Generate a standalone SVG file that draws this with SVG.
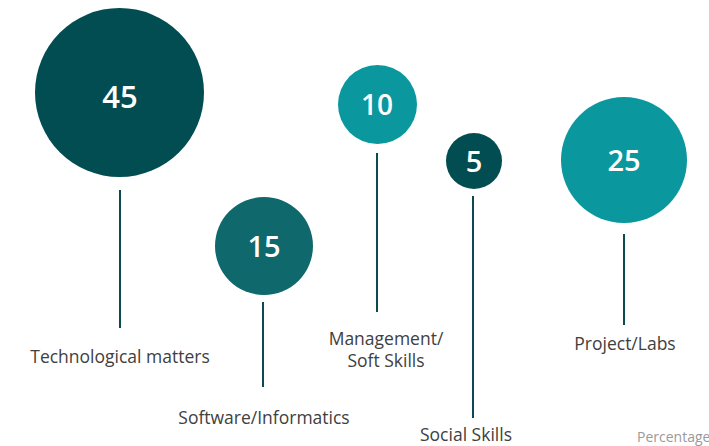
<svg xmlns="http://www.w3.org/2000/svg" width="709" height="446" viewBox="0 0 709 446">
<style>
.num{font-family:"Open Sans","Noto Sans",sans-serif;font-weight:600;fill:#ffffff;text-anchor:middle}
.lbl{font-family:"Open Sans","Noto Sans",sans-serif;font-size:17.5px;fill:#404040;text-anchor:middle}
.stem{stroke:#0b4a50;stroke-width:2}
.dark{fill:#024d52}
.mid{fill:#0e686c}
.light{fill:#0a979e}
</style>
<rect width="709" height="446" fill="#ffffff"/>
<g id="connectors">
<line class="stem" x1="120" y1="190" x2="120" y2="328"/>
<line class="stem" x1="263" y1="302" x2="263" y2="387"/>
<line class="stem" x1="377" y1="153" x2="377" y2="312"/>
<line class="stem" x1="473" y1="196" x2="473" y2="418"/>
<line class="stem" x1="624" y1="234" x2="624" y2="325"/>
</g>
<g id="node-technological">
<circle class="dark" cx="119.5" cy="92.5" r="84.5"/>
<text class="num" x="120" y="108" font-size="31">45</text>
<text class="lbl" x="120" y="363">Technological matters</text>
</g>
<g id="node-software">
<circle class="mid" cx="264" cy="246" r="49"/>
<text class="num" x="264" y="257" font-size="29">15</text>
<text class="lbl" x="264" y="424">Software/Informatics</text>
</g>
<g id="node-management">
<circle class="light" cx="377.5" cy="104.5" r="39.5"/>
<text class="num" x="377" y="115" font-size="28">10</text>
<text class="lbl" x="386" y="345">Management/</text>
<text class="lbl" x="386" y="367">Soft Skills</text>
</g>
<g id="node-social">
<circle class="dark" cx="474" cy="161" r="28"/>
<text class="num" x="474" y="172" font-size="29">5</text>
<text class="lbl" x="466" y="441">Social Skills</text>
</g>
<g id="node-project">
<circle class="light" cx="624" cy="160" r="63"/>
<text class="num" x="624" y="171" font-size="29">25</text>
<text class="lbl" x="625" y="350">Project/Labs</text>
</g>
<text x="637" y="442" font-family="Open Sans, Noto Sans, sans-serif" font-size="14" fill="#9a9a9a">Percentage</text>
</svg>
